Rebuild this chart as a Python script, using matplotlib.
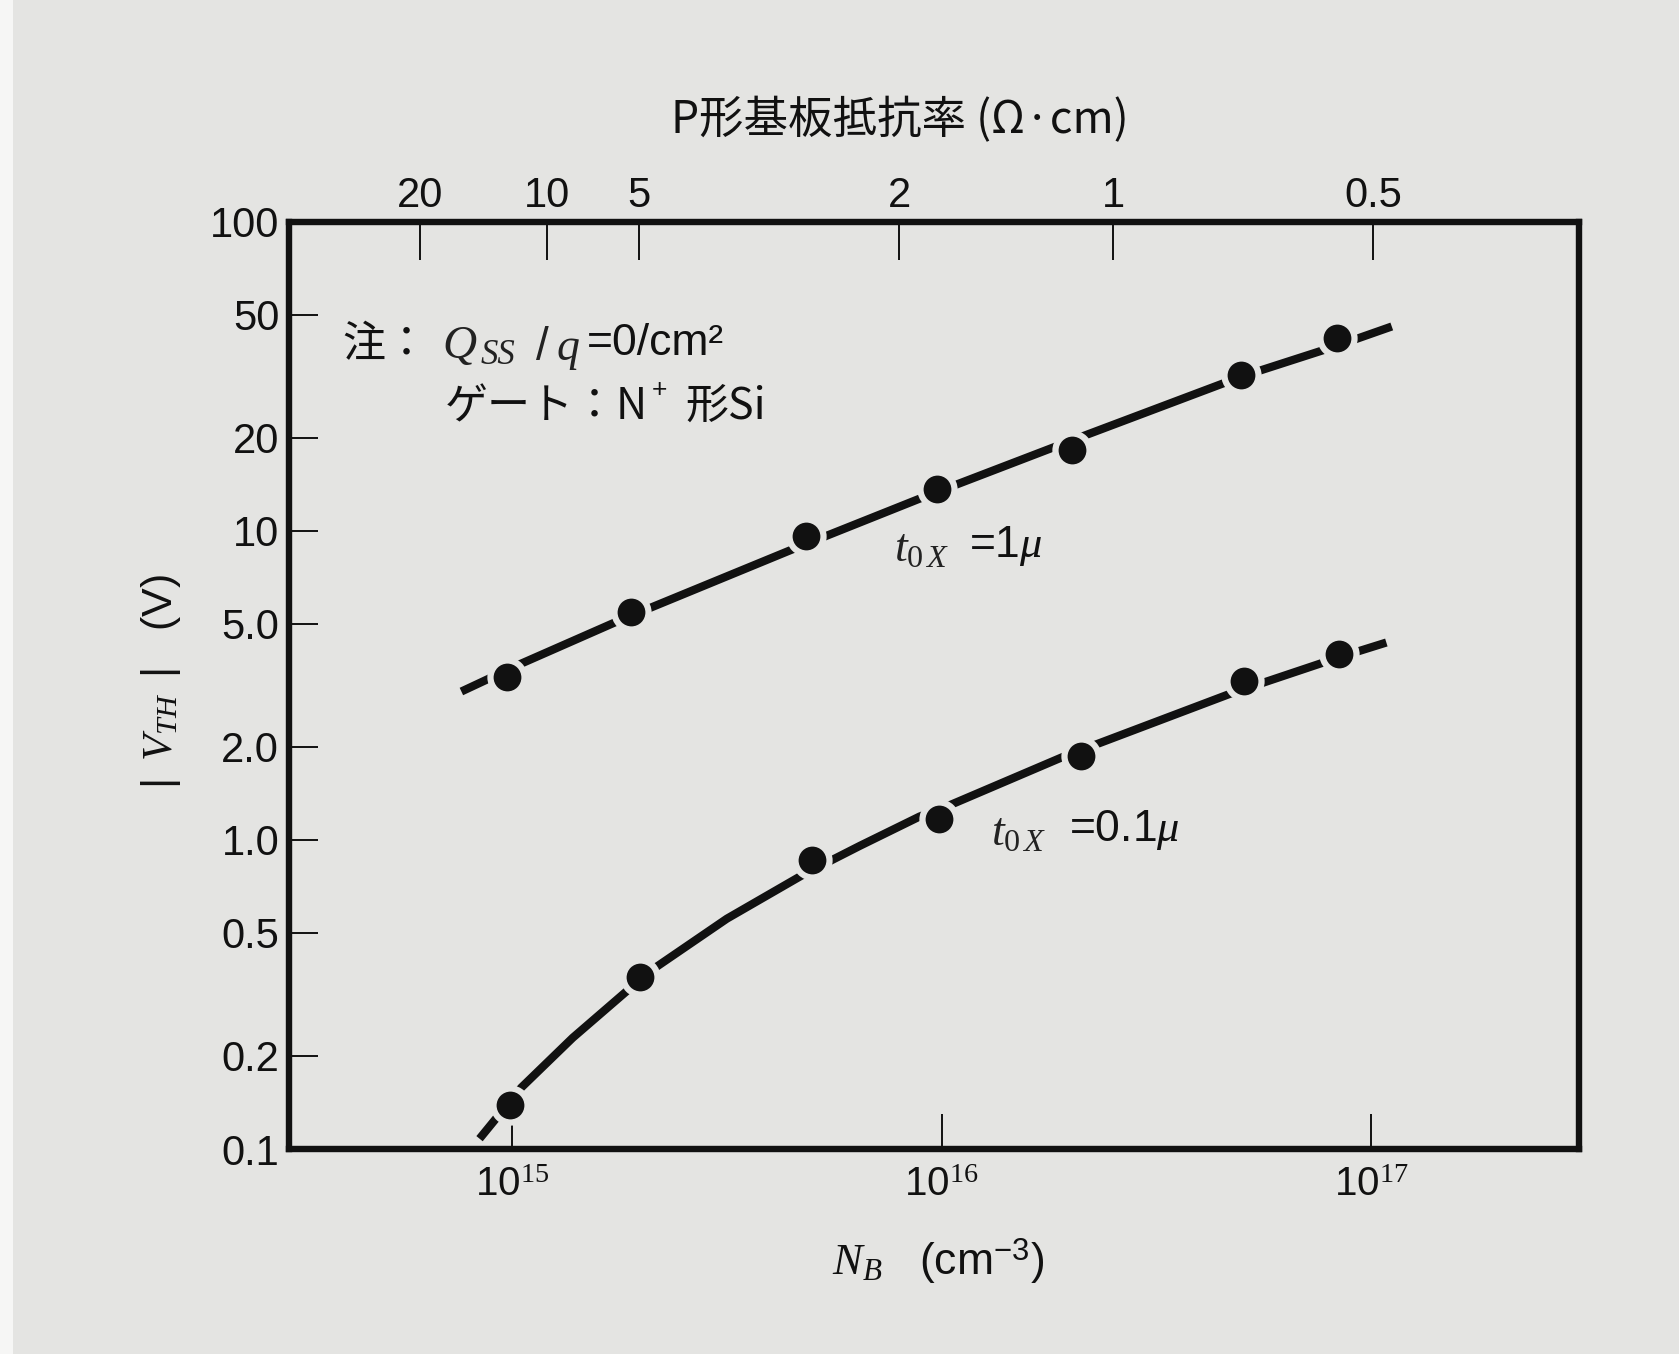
import matplotlib
matplotlib.use('Agg')
import matplotlib.pyplot as plt
from matplotlib.ticker import FixedLocator, FixedFormatter, NullLocator
from matplotlib.patches import Rectangle

# ---------------- data ----------------
# t_ox = 1 micron : measured points and the drawn curve
NB_points_1u = [9.73e14, 1.90e15, 4.83e15, 9.74e15, 2.01e16, 4.98e16, 8.30e16]
VTH_points_1u = [3.36, 5.44, 9.64, 13.7, 18.2, 31.9, 41.9]
NB_curve_1u = [7.64e14, 1.035e15, 1.754e15, 4.467e15, 8.89e15, 2.007e16,
               4.968e16, 8.278e16, 1.115e17]
VTH_curve_1u = [3.02, 3.68, 5.08, 8.67, 12.7, 19.6, 31.5, 39.6, 45.8]

# t_ox = 0.1 micron : measured points and the drawn curve
NB_points_01u = [9.9e14, 1.99e15, 4.99e15, 9.84e15, 2.11e16, 5.05e16, 8.4e16]
VTH_points_01u = [0.139, 0.361, 0.862, 1.17, 1.87, 3.27, 3.99]
NB_curve_01u = [8.42e14, 1.053e15, 1.387e15, 1.847e15, 2.169e15, 3.167e15,
                4.760e15, 6.450e15, 8.891e15, 1.038e16, 1.906e16, 4.692e16,
                8.374e16, 1.083e17]
VTH_curve_01u = [0.108, 0.158, 0.229, 0.323, 0.388, 0.556,
                 0.771, 0.956, 1.19, 1.29, 1.85, 2.97,
                 3.89, 4.35]

# axes ticks
y_ticks = [0.1, 0.2, 0.5, 1.0, 2.0, 5.0, 10, 20, 50, 100]
y_labels = ['0.1', '0.2', '0.5', '1.0', '2.0', '5.0', '10', '20', '50', '100']
x_ticks = [1e15, 1e16, 1e17]
x_labels = [r'$10^{\mathsf{15}}$', r'$10^{\mathsf{16}}$', r'$10^{\mathsf{17}}$']
# top axis: substrate resistivity (ohm cm) marks placed at corresponding N_B
rho_labels = ['20', '10', '5', '2', '1', '0.5']
rho_tick_NB = [6.11e14, 1.21e15, 1.98e15, 7.98e15, 2.51e16, 1.01e17]

# ---------------- style ----------------
BG = '#e4e4e2'
INK = '#111111'
plt.rcParams['font.family'] = ['Liberation Sans', 'DejaVu Sans']
plt.rcParams['mathtext.fontset'] = 'custom'
plt.rcParams['mathtext.rm'] = 'Liberation Sans'
plt.rcParams['mathtext.it'] = 'Liberation Serif:italic'
plt.rcParams['mathtext.bf'] = 'Liberation Sans:bold'
plt.rcParams['mathtext.sf'] = 'Liberation Serif'
CJK = ['Noto Sans CJK JP', 'DejaVu Sans']
SERIF = ['Liberation Serif', 'DejaVu Serif']

fig = plt.figure(figsize=(16.79, 13.54), dpi=100)
fig.patch.set_facecolor(BG)
fig.patches.append(Rectangle((0, 0), 0.008, 1, transform=fig.transFigure,
                             facecolor='#f6f6f5', edgecolor='none', zorder=0))

ax = fig.add_axes([0.1721, 0.1514, 0.7684, 0.6849])
ax.set_facecolor(BG)
ax.set_xscale('log')
ax.set_yscale('log')
xlim = (10 ** 14.482, 10 ** 17.483)
ax.set_xlim(*xlim)
ax.set_ylim(0.1, 100)

for sp in ax.spines.values():
    sp.set_linewidth(4.6)
    sp.set_color(INK)

ax.yaxis.set_major_locator(FixedLocator(y_ticks))
ax.yaxis.set_major_formatter(FixedFormatter(y_labels))
ax.yaxis.set_minor_locator(NullLocator())
ax.xaxis.set_major_locator(FixedLocator(x_ticks))
ax.xaxis.set_major_formatter(FixedFormatter(x_labels))
ax.xaxis.set_minor_locator(NullLocator())
ax.tick_params(axis='y', direction='in', length=21, width=1.4, labelsize=30,
               pad=7, colors=INK)
ax.tick_params(axis='x', direction='in', length=25, width=1.4, labelsize=29,
               pad=12, colors=INK)

ax2 = ax.twiny()
ax2.set_xscale('log')
ax2.set_xlim(*xlim)
ax2.xaxis.set_major_locator(FixedLocator(rho_tick_NB))
ax2.xaxis.set_major_formatter(FixedFormatter(rho_labels))
ax2.xaxis.set_minor_locator(NullLocator())
ax2.tick_params(axis='x', direction='in', length=27, width=1.4, labelsize=30,
                pad=4, colors=INK)
for sp in ax2.spines.values():
    sp.set_visible(False)

# curves with measured points (points carry a small gap around them)
for xc, yc, xp, yp in [(NB_curve_1u, VTH_curve_1u, NB_points_1u, VTH_points_1u),
                       (NB_curve_01u, VTH_curve_01u, NB_points_01u, VTH_points_01u)]:
    ax.plot(xc, yc, color=INK, lw=5.9, solid_capstyle='butt',
            solid_joinstyle='round', zorder=3)
    ax.plot(xp, yp, 'o', ms=29, mfc=BG, mec='none', zorder=4)
    ax.plot(xp, yp, 'o', ms=20, mfc=INK, mec='none', zorder=5)

# annotations
tr = ax.transAxes
ax.text(0.0416, 0.867, '注：', transform=tr, fontsize=31, family=CJK,
        va='center', ha='left', color=INK)
ax.text(0.1190, 0.866, r'$Q$', transform=tr, fontsize=34,
        va='center', ha='left', color='#222222')
ax.text(0.1485, 0.856, 'SS', transform=tr, fontsize=25, family=SERIF,
        style='italic', va='center', ha='left', color='#222222')
ax.text(0.1905, 0.864, r'$/\;q$', transform=tr, fontsize=33,
        va='center', ha='left', color='#222222')
ax.text(0.2310, 0.869, '=0/cm²', transform=tr, fontsize=32,
        va='center', ha='left', color=INK)
ax.text(0.1205, 0.800, 'ゲート：N', transform=tr, fontsize=31, family=CJK,
        va='center', ha='left', color=INK)
ax.text(0.2815, 0.818, '+', transform=tr, fontsize=19,
        va='center', ha='left', color=INK)
ax.text(0.3072, 0.800, '形Si', transform=tr, fontsize=31, family=CJK,
        va='center', ha='left', color=INK)

ax.text(0.469, 0.646, r'$t_{\mathsf{0}\,X}$', transform=tr, fontsize=33,
        va='center', ha='left', color='#222222')
ax.text(0.527, 0.650, r'=1$\mu$', transform=tr, fontsize=32,
        va='center', ha='left', color=INK)
ax.text(0.544, 0.340, r'$t_{\mathsf{0}\,X}$', transform=tr, fontsize=33,
        va='center', ha='left', color='#222222')
ax.text(0.605, 0.344, r'=0.1$\mu$', transform=tr, fontsize=32,
        va='center', ha='left', color=INK)

# axis titles
fig.text(0.536, 0.911, 'P形基板抵抗率 (Ω·cm)', family=CJK, fontsize=32,
         ha='center', va='center', color=INK)
fig.text(0.559, 0.0687, r'$N_B$   (cm$^{-3}$)', fontsize=32,
         ha='center', va='center', color=INK)
fig.text(0.0957, 0.497, r'$|\;\;V_{TH}\;\;|$   (V)', fontsize=31, rotation=90,
         ha='center', va='center', color=INK)

fig.savefig('out.png', dpi=100, facecolor=BG)
